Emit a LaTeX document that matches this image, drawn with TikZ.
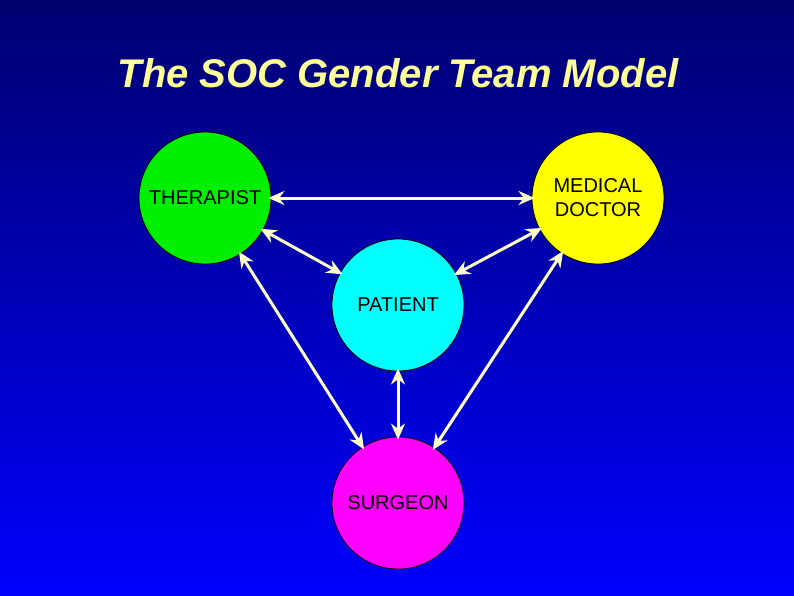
\documentclass[tikz,border=0pt]{standalone}
\usepackage{fontspec}
\setmainfont{Liberation Sans}
\usetikzlibrary{arrows.meta}
\definecolor{bgtop}{HTML}{000070}
\definecolor{bgbot}{HTML}{0000FF}
\definecolor{arr}{HTML}{FFFFCC}
\definecolor{ttl}{HTML}{FFFF99}
\definecolor{cgreen}{HTML}{00EE00}
\definecolor{cyellow}{HTML}{FFFF00}
\definecolor{ccyan}{HTML}{00FFFF}
\definecolor{cmag}{HTML}{FF00FF}
\tikzset{
  party/.style={circle,draw=black,line width=0.8pt,minimum size=132pt,inner sep=0pt,font=\fontsize{20}{24}\selectfont,align=center},
  link/.style={arr,line width=3pt,{Stealth[length=16pt,width=14pt]}-{Stealth[length=16pt,width=14pt]},shorten <=-3pt,shorten >=-3pt}
}
\begin{document}
\begin{tikzpicture}[x=1pt,y=-1pt]
\shade[top color=bgtop,bottom color=bgbot] (0,0) rectangle (794,595);
\useasboundingbox (0,0) rectangle (794,595);
\node (title) at (398,73) {\fontsize{40}{46}\selectfont\bfseries\itshape\color{ttl}The SOC Gender Team Model};
\node[party,fill=cgreen] (ther) at (205,198) {THERAPIST};
\node[party,fill=cyellow] (doc) at (598,198) {MEDICAL\\DOCTOR};
\node[party,fill=ccyan] (pat) at (398,305) {PATIENT};
\node[party,fill=cmag] (sur) at (398,503) {SURGEON};
\draw[link] (ther) -- (doc);
\draw[link] (ther) -- (pat);
\draw[link] (doc) -- (pat);
\draw[link] (ther) -- (sur);
\draw[link] (doc) -- (sur);
\draw[link] (pat) -- (sur);
\end{tikzpicture}
\end{document}
